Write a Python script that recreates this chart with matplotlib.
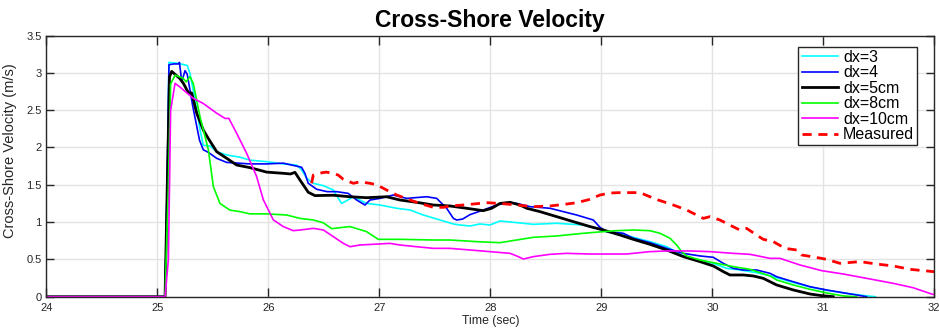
import matplotlib
matplotlib.use("Agg")
import matplotlib.pyplot as plt

plt.rcParams['font.family'] = ['Liberation Sans', 'DejaVu Sans']

# model runs at different grid spacings, velocity in m/s against time in s
t_dx3 = [24.0, 25.07, 25.09, 25.105, 25.18, 25.27, 25.295, 25.34, 25.385, 25.414, 25.475, 25.535,
         25.625, 25.745, 25.835, 25.985, 26.135, 26.255, 26.3, 26.346, 26.406, 26.496, 26.586, 26.66,
         26.706, 26.766, 26.886, 27.006, 27.157, 27.277, 27.397, 27.547, 27.667, 27.727, 27.817, 27.907,
         27.997, 28.087, 28.238, 28.388, 28.598, 28.838, 28.988, 29.078, 29.168, 29.288, 29.438, 29.589,
         29.739, 29.889, 30.009, 30.129, 30.249, 30.399, 30.52, 30.73, 30.88, 31.03, 31.21, 31.4, 31.47]
v_dx3 = [0, 0, 1.6, 3.14, 3.13, 3.1, 2.99, 2.64, 2.24, 2.03, 2.02, 1.944,
         1.90, 1.87, 1.83, 1.81, 1.78, 1.765, 1.70, 1.587, 1.52, 1.488, 1.43, 1.25,
         1.287, 1.34, 1.25, 1.229, 1.185, 1.162, 1.095, 1.028, 0.975, 0.961, 0.948, 0.975,
         0.961, 1.015, 0.993, 0.97, 0.984, 0.961, 0.903, 0.858, 0.85, 0.796, 0.738, 0.671,
         0.546, 0.492, 0.447, 0.38, 0.358, 0.322, 0.28, 0.19, 0.13, 0.085, 0.045, 0.01, 0]

t_dx4 = [24.0, 25.07, 25.09, 25.105, 25.15, 25.19, 25.2, 25.22, 25.25, 25.27, 25.32, 25.38, 25.414,
         25.46, 25.535, 25.625, 25.835, 25.985, 26.135, 26.30, 26.33, 26.36, 26.436, 26.53, 26.616,
         26.72, 26.796, 26.871, 26.916, 27.006, 27.126, 27.246, 27.427, 27.517, 27.607, 27.667, 27.697,
         27.75, 27.817, 27.937, 28.058, 28.148, 28.238, 28.358, 28.538, 28.658, 28.778, 28.928, 28.988,
         29.048, 29.198, 29.288, 29.438, 29.589, 29.739, 29.889, 30.009, 30.099, 30.189, 30.279, 30.399,
         30.52, 30.58, 30.73, 30.88, 31.03, 31.21, 31.39]
v_dx4 = [0, 0, 1.6, 3.11, 3.12, 3.12, 3.14, 2.88, 3.03, 2.98, 2.55, 2.10, 1.97,
         1.935, 1.855, 1.80, 1.78, 1.78, 1.79, 1.735, 1.654, 1.52, 1.44, 1.408, 1.408,
         1.385, 1.296, 1.229, 1.296, 1.318, 1.363, 1.318, 1.34, 1.318, 1.185, 1.05, 1.028,
         1.04, 1.10, 1.162, 1.229, 1.26, 1.25, 1.207, 1.185, 1.14, 1.095, 1.028, 0.93,
         0.872, 0.85, 0.783, 0.724, 0.648, 0.581, 0.546, 0.528, 0.447, 0.38, 0.358, 0.358,
         0.313, 0.268, 0.2, 0.134, 0.09, 0.045, 0]

t_dx5 = [24.0, 25.07, 25.09, 25.11, 25.13, 25.16, 25.2, 25.235, 25.28, 25.31, 25.355, 25.414, 25.46,
         25.535, 25.625, 25.715, 25.835, 25.985, 26.135, 26.20, 26.24, 26.285, 26.36, 26.42, 26.586,
         26.736, 26.886, 27.066, 27.186, 27.336, 27.487, 27.637, 27.787, 27.937, 28.012, 28.087, 28.178,
         28.268, 28.328, 28.448, 28.598, 28.748, 28.898, 29.018, 29.168, 29.288, 29.438, 29.589, 29.739,
         29.889, 30.009, 30.099, 30.159, 30.279, 30.369, 30.459, 30.58, 30.73, 30.88, 30.985, 31.09]
v_dx5 = [0, 0, 1.5, 2.95, 3.02, 2.98, 2.93, 2.86, 2.735, 2.73, 2.46, 2.235, 2.12,
         1.944, 1.855, 1.765, 1.73, 1.67, 1.654, 1.645, 1.667, 1.565, 1.40, 1.355, 1.36,
         1.34, 1.327, 1.34, 1.296, 1.265, 1.229, 1.216, 1.185, 1.153, 1.185, 1.25, 1.265,
         1.229, 1.185, 1.14, 1.073, 1.006, 0.94, 0.894, 0.827, 0.769, 0.702, 0.626, 0.537,
         0.47, 0.412, 0.336, 0.291, 0.291, 0.278, 0.246, 0.157, 0.09, 0.036, 0.014, 0]

t_dx8 = [24.0, 25.07, 25.1, 25.12, 25.16, 25.23, 25.26, 25.294, 25.324, 25.385, 25.46, 25.505, 25.565,
         25.655, 25.745, 25.835, 25.985, 26.165, 26.286, 26.406, 26.496, 26.571, 26.736, 26.886, 26.99,
         27.186, 27.487, 27.637, 27.877, 28.087, 28.238, 28.388, 28.598, 28.838, 29.018, 29.138, 29.288,
         29.438, 29.529, 29.619, 29.679, 29.724, 29.769, 29.889, 30.039, 30.189, 30.339, 30.52, 30.58,
         30.73, 30.88, 31.03, 31.18, 31.3]
v_dx8 = [0, 0, 1.5, 2.85, 2.97, 2.93, 2.88, 2.95, 2.86, 2.41, 1.97, 1.475, 1.25,
         1.16, 1.14, 1.11, 1.11, 1.095, 1.05, 1.028, 0.99, 0.912, 0.94, 0.872, 0.769,
         0.769, 0.76, 0.76, 0.738, 0.724, 0.76, 0.796, 0.814, 0.85, 0.872, 0.885, 0.894,
         0.885, 0.85, 0.783, 0.693, 0.604, 0.546, 0.492, 0.447, 0.403, 0.367, 0.278, 0.224,
         0.157, 0.099, 0.05, 0.01, 0]

t_dx10 = [24.0, 25.07, 25.1, 25.12, 25.16, 25.2, 25.324, 25.414, 25.535, 25.61, 25.645, 25.715,
          25.805, 25.895, 25.955, 26.045, 26.135, 26.225, 26.286, 26.406, 26.496, 26.586, 26.676,
          26.736, 26.826, 26.99, 27.096, 27.186, 27.336, 27.487, 27.637, 27.817, 27.997, 28.178,
          28.238, 28.298, 28.388, 28.538, 28.688, 28.898, 29.078, 29.228, 29.438, 29.589, 29.799,
          29.979, 30.189, 30.339, 30.52, 30.61, 30.79, 30.985, 31.18, 31.39, 31.63, 31.81, 31.976, 32.0]
v_dx10 = [0, 0, 0.5, 2.5, 2.86, 2.815, 2.66, 2.59, 2.46, 2.39, 2.39, 2.19,
          1.922, 1.61, 1.30, 1.03, 0.94, 0.885, 0.894, 0.916, 0.894, 0.805, 0.715,
          0.67, 0.693, 0.706, 0.715, 0.693, 0.67, 0.648, 0.648, 0.626, 0.604, 0.581,
          0.546, 0.505, 0.537, 0.568, 0.581, 0.572, 0.572, 0.572, 0.604, 0.613, 0.613,
          0.604, 0.581, 0.568, 0.514, 0.514, 0.425, 0.349, 0.304, 0.246, 0.179, 0.12, 0.036, 0.03]

# measured velocity
t_meas = [26.39, 26.405, 26.48, 26.52, 26.586, 26.63, 26.676, 26.766, 26.826, 26.916, 26.976, 27.066,
          27.157, 27.277, 27.367, 27.487, 27.577, 27.637, 27.757, 27.967, 28.087, 28.238, 28.388,
          28.538, 28.688, 28.778, 28.898, 28.988, 29.078, 29.168, 29.348, 29.438, 29.513, 29.649,
          29.769, 29.859, 29.919, 29.979, 30.069, 30.174, 30.249, 30.309, 30.399, 30.459, 30.55,
          30.655, 30.76, 30.805, 30.895, 31.03, 31.15, 31.33, 31.48, 31.63, 31.78, 32.0]
v_meas = [1.52, 1.63, 1.66, 1.67, 1.654, 1.63, 1.573, 1.52, 1.54, 1.52, 1.50, 1.43,
          1.363, 1.296, 1.25, 1.198, 1.198, 1.216, 1.229, 1.26, 1.25, 1.229, 1.207,
          1.216, 1.242, 1.26, 1.305, 1.363, 1.39, 1.395, 1.395, 1.34, 1.296, 1.229,
          1.162, 1.095, 1.05, 1.073, 1.028, 0.948, 0.894, 0.916, 0.827, 0.769, 0.738,
          0.648, 0.626, 0.559, 0.537, 0.501, 0.447, 0.47, 0.438, 0.412, 0.367, 0.335]

x_ticks = [24, 25, 26, 27, 28, 29, 30, 31, 32]
y_ticks = [0, 0.5, 1, 1.5, 2, 2.5, 3, 3.5]
y_ticklabels = ['0', '0.5', '1', '1.5', '2', '2.5', '3', '3.5']

fig = plt.figure(figsize=(9.39, 3.29), dpi=100)
ax = fig.add_axes([0.0493, 0.0982, 0.9457, 0.7936])

ax.plot(t_dx3, v_dx3, color='#00ffff', lw=1.2, label='dx=3')
ax.plot(t_dx4, v_dx4, color='#0000ff', lw=1.2, label='dx=4')
ax.plot(t_dx5, v_dx5, color='black', lw=2.0, label='dx=5cm')
ax.plot(t_dx8, v_dx8, color='#00ff00', lw=1.2, label='dx=8cm')
ax.plot(t_dx10, v_dx10, color='#ff00ff', lw=1.2, label='dx=10cm')
ax.plot(t_meas, v_meas, color='#ff0000', lw=2.0, ls=(0, (3.3, 2.4)), label='Measured')

ax.set_xlim(24, 32)
ax.set_ylim(0, 3.5)
ax.set_xticks(x_ticks)
ax.set_yticks(y_ticks)
ax.set_yticklabels(y_ticklabels)
ax.grid(True, color='#e3e3e3', lw=1.0)
ax.set_axisbelow(True)

for sp in ax.spines.values():
    sp.set_color('#262626')
    sp.set_linewidth(1.0)
ax.tick_params(axis='both', direction='in', top=True, right=True, labelsize=8,
               color='#262626', labelcolor='#262626', width=1.0)
ax.tick_params(axis='x', length=6.5, pad=4.5)
ax.tick_params(axis='y', length=6, pad=3.3)

ax.set_xlabel('Time (sec)', fontsize=8.8, color='#262626', labelpad=1.5)
ax.set_ylabel('Cross-Shore Velocity (m/s)', fontsize=10.5, color='#262626')
ax.yaxis.set_label_coords(-0.033, 0.558)
ax.set_title('Cross-Shore Velocity', fontsize=16.5, fontweight='bold', pad=6)

leg = ax.legend(loc='upper right', bbox_to_anchor=(0.981, 0.9575), borderaxespad=0,
                fontsize=11.5, labelspacing=0.03, handlelength=2.3, handletextpad=0.3,
                borderpad=0.2, fancybox=False, framealpha=1)
leg.get_frame().set_edgecolor('#262626')
leg.get_frame().set_linewidth(1.0)

fig.savefig('out.png', dpi=100)
